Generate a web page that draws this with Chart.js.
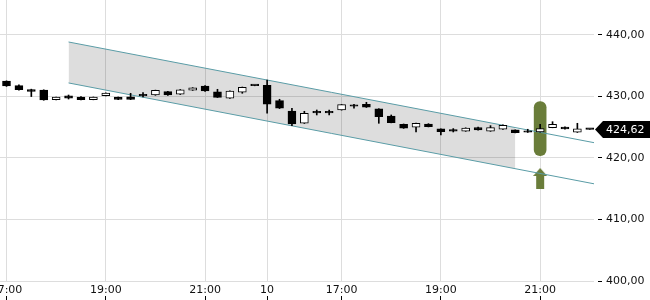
<!DOCTYPE html>
<html><head><meta charset="utf-8">
<script src="https://cdn.jsdelivr.net/npm/chart.js@4/dist/chart.umd.min.js"></script>
<style>html,body{margin:0;padding:0;background:#fff}#wrap{width:650px;height:300px;position:relative}</style>
</head><body><div id="wrap"><canvas id="c"></canvas></div>
<script>
// 15-minute candles: day 1 (17:00-22:00), day 2 (15:30-22:00)
const times = ['17:00','17:15','17:30','17:45','18:00','18:15','18:30','18:45','19:00','19:15','19:30','19:45','20:00','20:15','20:30','20:45','21:00','21:15','21:30','21:45','22:00',
  '15:30','15:45','16:00','16:15','16:30','16:45','17:00','17:15','17:30','17:45','18:00','18:15','18:30','18:45','19:00','19:15','19:30','19:45','20:00','20:15','20:30','20:45','21:00','21:15','21:30','21:45','22:00'];
const opens = [432.48,431.72,431.10,431.02,429.45,430.05,429.88,429.45,430.10,429.85,429.90,430.15,430.20,430.75,430.32,430.97,431.65,430.70,429.67,430.65,431.72,
  431.78,429.28,427.61,425.61,427.42,427.42,427.77,428.42,428.70,427.94,426.80,425.45,424.96,425.50,424.69,424.58,424.32,424.90,424.32,424.64,424.53,424.25,424.20,424.90,425.01,424.15,424.62];
const highs = [432.50,431.85,431.15,431.05,429.88,430.20,429.93,429.88,430.55,429.88,430.48,430.58,431.00,430.80,431.10,431.40,431.72,431.13,430.90,431.50,431.75,
  432.64,429.51,428.05,427.56,427.77,427.77,428.66,428.70,429.02,427.98,426.96,425.50,425.65,425.55,424.72,424.75,424.88,425.00,425.23,425.35,424.55,424.64,425.45,425.87,425.05,425.61,424.62];
const lows = [431.60,431.00,429.95,429.35,429.42,429.55,429.40,429.42,430.05,429.45,429.45,429.88,430.15,430.15,430.28,430.95,430.80,429.80,429.65,430.48,431.70,
  427.24,428.00,425.22,425.58,426.96,426.96,427.74,428.05,428.18,425.61,425.68,424.78,424.20,425.02,423.71,424.20,424.30,424.48,424.30,424.60,424.05,424.12,424.18,424.88,424.65,424.12,424.62];
const closes = [431.67,431.07,430.80,429.40,429.85,429.70,429.45,429.85,430.50,429.50,429.50,430.05,430.95,430.20,431.05,431.35,430.87,429.83,430.86,431.46,431.72,
  428.70,428.05,425.50,427.24,427.30,427.30,428.63,428.37,428.21,426.68,425.71,424.80,425.60,425.06,424.25,424.35,424.85,424.53,424.90,425.29,424.09,424.15,424.74,425.45,424.69,424.69,424.62];

const xTickPos = [0, 8, 16, 21, 27, 35, 43];
const xTickLabels = ['17:00', '19:00', '21:00', '10', '17:00', '19:00', '21:00'];
const yTicks = [400, 410, 420, 430, 440];

// trend channel
const channelX = [5, 47.4];
const channelUpper = [438.81, 422.44];
const channelLower = [432.16, 415.76];
const channelFillEnd = 41;

// signal marker
const signalIndex = 43;
const signalRange = [420.36, 429.12];
const arrowValue = 416.65;

const OLIVE = '#6a7d3a';
const TEAL = '#5a9ca6';

function lineAt(arr, x) {
  const t = (x - channelX[0]) / (channelX[1] - channelX[0]);
  return arr[0] + (arr[1] - arr[0]) * t;
}

const arrowImg = document.createElement('canvas');
arrowImg.width = 14; arrowImg.height = 21;
(function () {
  const c = arrowImg.getContext('2d');
  c.fillStyle = OLIVE;
  c.beginPath(); c.moveTo(7, 0); c.lineTo(14, 8); c.lineTo(0, 8); c.closePath(); c.fill();
  c.fillRect(3, 8, 8, 13);
})();

const bodies = times.map((t, i) => ({ x: i, y: [opens[i], closes[i]] }));
const wicks = times.map((t, i) => ({ x: i, y: [lows[i], highs[i]] }));
const bodyColors = times.map((t, i) => closes[i] > opens[i] ? '#ffffff' : '#000000');

const priceLabel = {
  id: 'priceLabel',
  afterDraw(chart) {
    const ctx = chart.ctx;
    const y = chart.scales.y.getPixelForValue(closes[closes.length - 1]);
    const x0 = chart.chartArea.right + 1;
    ctx.save();
    ctx.fillStyle = '#000';
    ctx.beginPath();
    ctx.moveTo(x0, y);
    ctx.lineTo(x0 + 8, y - 8.5);
    ctx.lineTo(650, y - 8.5);
    ctx.lineTo(650, y + 8.5);
    ctx.lineTo(x0 + 8, y + 8.5);
    ctx.closePath();
    ctx.fill();
    ctx.fillStyle = '#fff';
    ctx.font = '11px "DejaVu Sans"';
    ctx.textBaseline = 'middle';
    ctx.textAlign = 'left';
    ctx.fillText(closes[closes.length - 1].toFixed(2).replace('.', ','), 606, y + 0.5);
    ctx.restore();
  }
};

new Chart(document.getElementById('c'), {
  type: 'bar',
  data: {
    datasets: [
      { type: 'line', data: [{ x: channelX[0], y: channelUpper[0] }, { x: channelFillEnd, y: lineAt(channelUpper, channelFillEnd) }],
        borderWidth: 0, pointRadius: 0, fill: '+1', backgroundColor: 'rgba(0,0,0,0.135)', order: 10 },
      { type: 'line', data: [{ x: channelX[0], y: channelLower[0] }, { x: channelFillEnd, y: lineAt(channelLower, channelFillEnd) }],
        borderWidth: 0, pointRadius: 0, fill: false, order: 10 },
      { type: 'bar', data: [{ x: signalIndex, y: signalRange }], backgroundColor: OLIVE, barThickness: 12,
        borderRadius: 6, borderSkipped: false, grouped: false, order: 8 },
      { type: 'line', data: [{ x: signalIndex, y: arrowValue }], showLine: false, pointStyle: arrowImg, pointRadius: 10, order: 8 },
      { type: 'line', data: channelX.map((x, i) => ({ x, y: channelUpper[i] })), borderColor: TEAL, borderWidth: 1, pointRadius: 0, fill: false, order: 6 },
      { type: 'line', data: channelX.map((x, i) => ({ x, y: channelLower[i] })), borderColor: TEAL, borderWidth: 1, pointRadius: 0, fill: false, order: 6 },
      { type: 'bar', data: wicks, backgroundColor: '#000', barThickness: 1, grouped: false, order: 4 },
      { type: 'bar', data: bodies, backgroundColor: bodyColors, borderColor: '#000', borderWidth: 1, borderSkipped: false,
        barThickness: 8, grouped: false, minBarLength: 1.5, order: 2 }
    ]
  },
  options: {
    responsive: true, maintainAspectRatio: false, animation: false, devicePixelRatio: 1,
    layout: { padding: 0, autoPadding: false },
    plugins: { legend: { display: false }, tooltip: { enabled: false } },
    scales: {
      x: {
        type: 'linear', min: -0.524, max: 47.34, offset: false,
        afterBuildTicks(s) { s.ticks = xTickPos.map(v => ({ value: v })); },
        afterFit(s) { s.height = 19; s.paddingLeft = 0; s.paddingRight = 0; },
        border: { display: false },
        grid: { offset: false, color: '#dddddd', tickLength: 19, tickColor: '#000', tickBorderDash: [0, 15, 4, 40] },
        ticks: { autoSkip: false, maxRotation: 0, padding: -16, color: '#111', font: { family: 'DejaVu Sans', size: 11 },
          callback: v => xTickLabels[xTickPos.indexOf(v)] }
      },
      y: {
        position: 'right', min: 400, max: 445.63,
        afterBuildTicks(s) { s.ticks = yTicks.map(v => ({ value: v })); },
        afterFit(s) { s.width = 56; s.paddingTop = 0; s.paddingBottom = 0; },
        border: { display: false },
        grid: { color: '#dddddd', tickLength: 8, tickColor: '#000', tickBorderDash: [0, 4, 4, 20] },
        ticks: { padding: 4, color: '#111', font: { family: 'DejaVu Sans', size: 11 },
          callback: v => v.toFixed(2).replace('.', ',') }
      }
    }
  },
  plugins: [priceLabel]
});
</script></body></html>
